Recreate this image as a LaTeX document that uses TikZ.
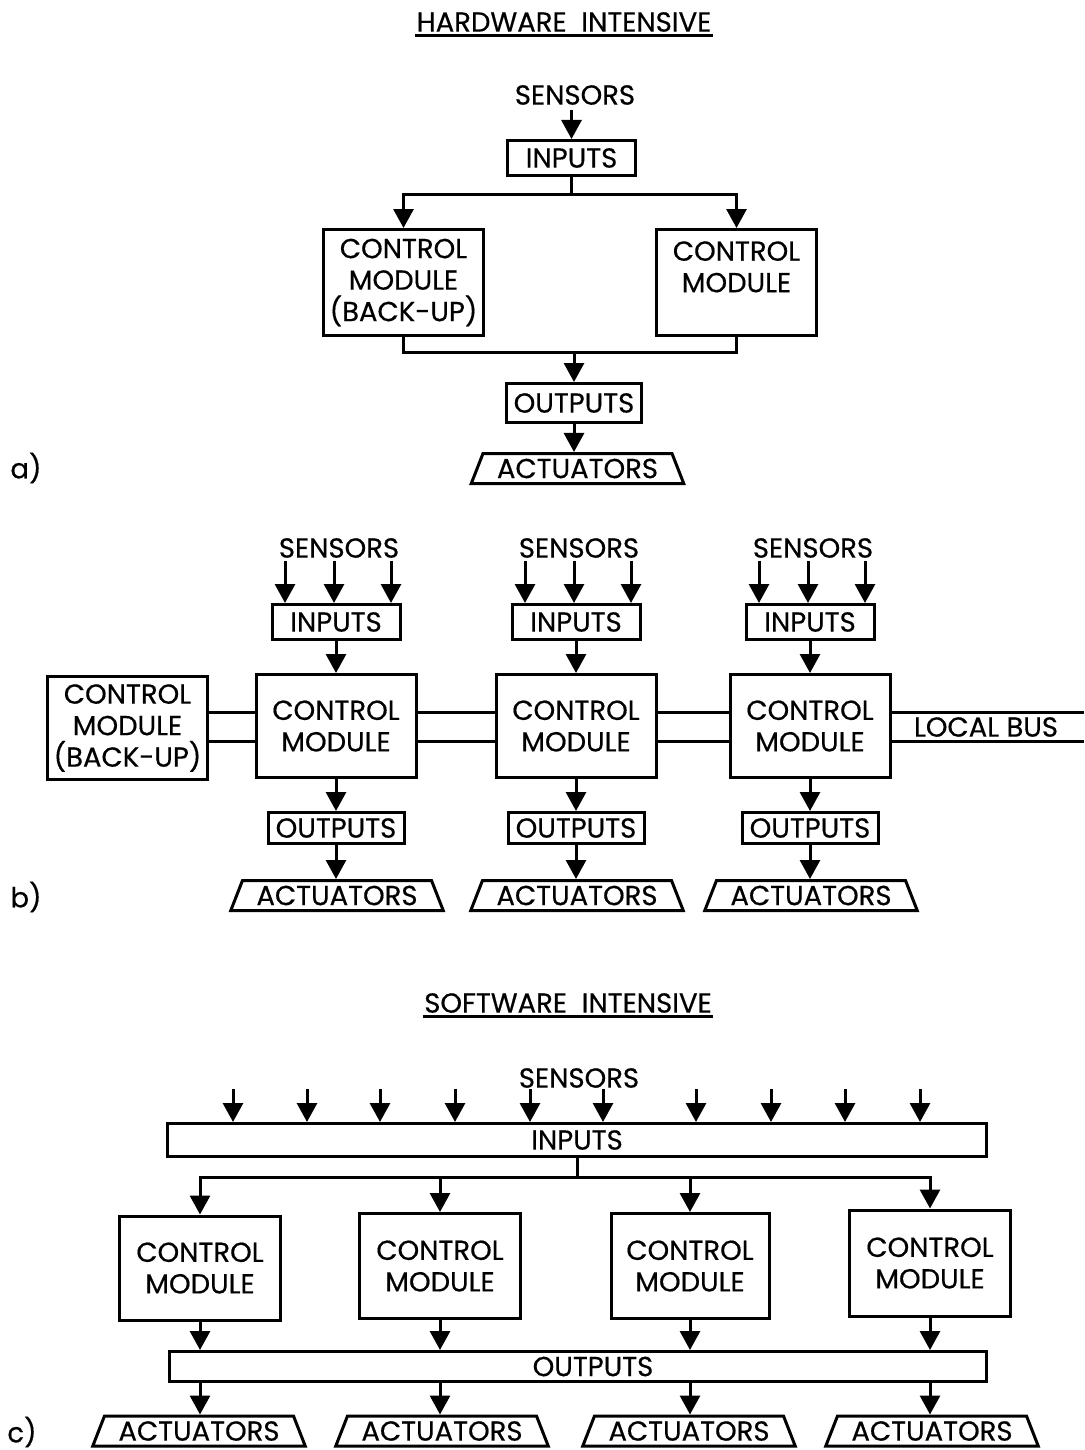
\documentclass[tikz,border=0pt]{standalone}
\usepackage{fontspec}
\setmainfont{Poppins}
\newfontfamily\lblfam{Poppins}[FakeBold=0.5]
\usetikzlibrary{arrows.meta,shapes.geometric,calc}
\newcommand\lblfont{\lblfam\fontsize{27.5}{31.5}\selectfont}
\begin{document}
\begin{tikzpicture}[x=1pt,y=-1pt,
  line width=3pt, line join=miter,
  every node/.style={font=\lblfont, inner sep=0pt},
  blk/.style={draw, rectangle, align=center, line width=3pt},
  act/.style={draw, trapezium, trapezium stretches=true, trapezium angle=63,
    minimum width=213pt, minimum height=30pt, line width=3pt},
  arr/.style={-{Triangle[width=20pt,length=19pt]}},
  uline/.style={line width=2.5pt}
]
\useasboundingbox (0,0) rectangle (1084,1450);

% ---------------- a) hardware intensive, single pair ----------------
\node (tHW) at (564,22) {HARDWARE\ \ INTENSIVE};
\draw[uline] ([yshift=-4pt]tHW.base west) -- ([yshift=-4pt]tHW.base east);

\node (aSens) at (575,95) {SENSORS};
\node[blk, minimum width=128pt, minimum height=35pt] (aIn) at (571.5,158) {INPUTS};
\node[blk, minimum width=160pt, minimum height=106pt] (aBk) at (403.5,282.5) {CONTROL\\MODULE\\(BACK-UP)};
\node[blk, minimum width=160pt, minimum height=106pt] (aCM) at (736.5,282.5) {CONTROL\\MODULE\\~};
\node[blk, minimum width=135pt, minimum height=39pt] (aOut) at (574,403) {OUTPUTS};
\node[act] (aAct) at (577.5,468.5) {ACTUATORS};
\node (aTag) at (26,468) {a)};

\draw[arr, shorten <=4pt] (aIn.north |- aSens.south) -- (aIn.north);
\coordinate (aSplit) at (571.5,195);
\draw (aIn.south) -- (aSplit);
\draw[arr] (aSplit) -| (aBk.north);
\draw[arr] (aSplit) -| (aCM.north);
\coordinate (aJoin) at (574,352);
\draw (aBk.south) |- (aJoin) -| (aCM.south);
\draw[arr] (aJoin) -- (aOut.north);
\draw[arr] (aOut.south) -- (aOut.south |- aAct.north);

% ---------------- b) distributed modules on a local bus ----------------
\foreach \i/\x in {1/336,2/576,3/810} {
  \node (bS\i) at (\x+3,548) {SENSORS};
  \node[blk, minimum width=128pt, minimum height=35pt] (bIn\i) at (\x,622) {INPUTS};
  \node[blk, minimum width=160pt, minimum height=103pt] (bCM\i) at (\x,726) {CONTROL\\MODULE};
  \node[blk, minimum width=136pt, minimum height=31pt] (bOut\i) at (\x,828) {OUTPUTS};
  \node[act] (bAct\i) at (\x+1,895.5) {ACTUATORS};
  \foreach \d in {-51,-2,55}
    \draw[arr] ($(bIn\i.north)+(\d,-42)$) -- ($(bIn\i.north)+(\d,0)$);
  \draw[arr] (bIn\i) -- (bCM\i);
  \draw[arr] (bCM\i) -- (bOut\i);
  \draw[arr] (bOut\i) -- (bOut\i.south |- bAct\i.north);
}
\node[blk, minimum width=160pt, minimum height=103pt] (bBk) at (127.5,728) {CONTROL\\MODULE\\(BACK-UP)};
\node (bTag) at (26,897) {b)};

\coordinate (bY1) at (0,712);
\coordinate (bY2) at (0,741);
\coordinate (bEnd) at (1084,726);
\foreach \y in {bY1,bY2} {
  \draw (bBk.east |- \y) -- (bCM1.west |- \y);
  \draw (bCM1.east |- \y) -- (bCM2.west |- \y);
  \draw (bCM2.east |- \y) -- (bCM3.west |- \y);
  \draw (bCM3.east |- \y) -- (bEnd |- \y);
}
\node (bBus) at (986,727) {LOCAL BUS};

% ---------------- c) software intensive ----------------
\node (tSW) at (568,1003) {SOFTWARE\ \ INTENSIVE};
\draw[uline] ([yshift=-4pt]tSW.base west) -- ([yshift=-4pt]tSW.base east);

\node (cS) at (579,1078) {SENSORS};
\node[blk, minimum width=819pt, minimum height=33pt] (cIn) at (577,1140) {INPUTS};
\foreach \x in {233,307,380,455,530,603,696,771,845,920}
  \draw[arr] ($(cIn.north)+(\x-577,-33)$) -- ($(cIn.north)+(\x-577,0)$);
\coordinate (cSplit) at (577,1177);
\draw (cIn.south) -- (cSplit);

\node[blk, minimum width=161pt, minimum height=104pt] (cCM1) at (200,1268) {CONTROL\\MODULE};
\node[blk, minimum width=161pt, minimum height=105pt] (cCM2) at (440,1266) {CONTROL\\MODULE};
\node[blk, minimum width=158pt, minimum height=105pt] (cCM3) at (690,1266) {CONTROL\\MODULE};
\node[blk, minimum width=161pt, minimum height=106pt] (cCM4) at (930,1263) {CONTROL\\MODULE};
\node[blk, minimum width=817pt, minimum height=30pt] (cOut) at (578,1366.5) {\hspace*{30pt}OUTPUTS};
\foreach \i/\x in {1/199,2/442,3/689,4/932}
  \node[act] (cAct\i) at (\x,1431) {ACTUATORS};
\node (cTag) at (22,1432) {c)};

\foreach \i in {1,2,3,4} {
  \draw[arr] (cSplit) -| (cCM\i.north);
  \draw[arr] (cCM\i) -- (cCM\i |- cOut.north);
  \draw[arr] (cCM\i |- cOut.south) -- (cCM\i |- cAct\i.north);
}
\end{tikzpicture}
\end{document}
